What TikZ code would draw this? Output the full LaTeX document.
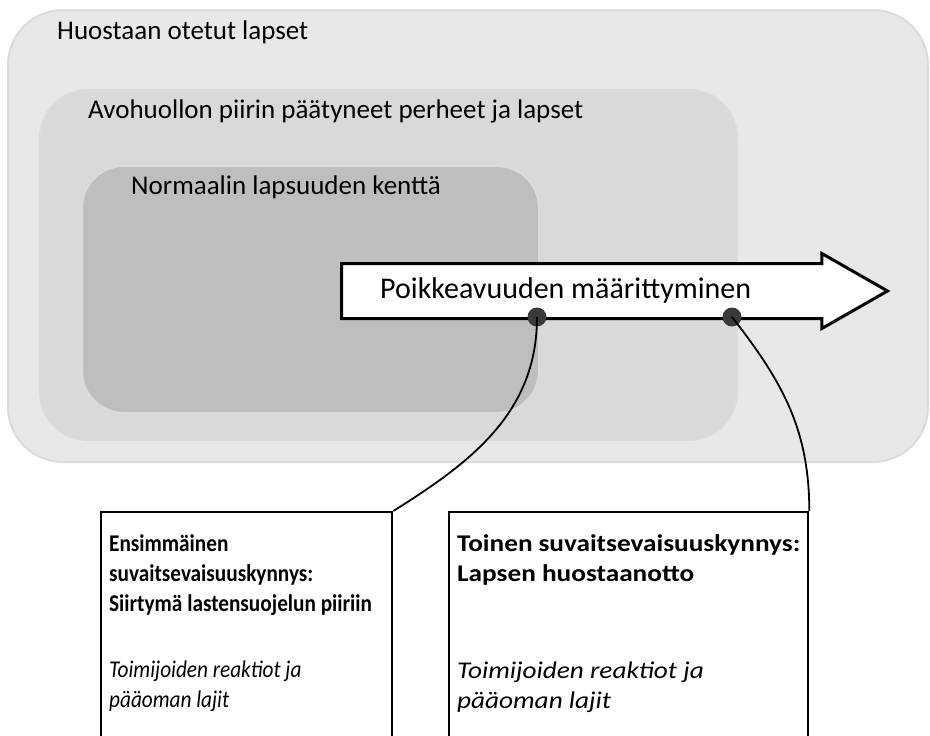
\documentclass[tikz,border=0pt]{standalone}
\usepackage{fontspec}
\setmainfont{Carlito}
\newfontfamily\narrowfont[FakeStretch = 0.886]{Carlito}
\newfontfamily\widefont[FakeStretch = 1.136]{Carlito}
\usepackage{tikz}
\usetikzlibrary{positioning}
\usetikzlibrary{shapes.arrows}
\definecolor{outergray}{RGB}{231,232,234}
\definecolor{middlegray}{RGB}{216,217,219}
\definecolor{innergray}{RGB}{189,190,192}
\definecolor{dotgray}{RGB}{58,58,60}
\newcommand{\firstline}{\rule{0pt}{33pt}}
\tikzset{field/.style = {draw = black!14, line width = 2pt}}
\tikzset{fieldlabel/.style = {anchor = base west, inner sep = 0, font = \fontsize{27}{32}\selectfont}}
\tikzset{circ/.style = {fill = dotgray, circle, inner sep = 0, minimum size = 19}}
\tikzset{threshold/.style = {draw, line width = 2.3pt, anchor = north west, inner xsep = 8, inner ysep = 6}}

\begin{document}
\begin{tikzpicture}[x = 1pt, y = -1pt]
      \useasboundingbox (0, 0) rectangle (930, 736);
      \clip (0, 0) rectangle (930, 736);
      \fill [white] (0, 0) rectangle (930, 736);
      \filldraw [field, fill = outergray, rounded corners = 55] (8, 10) rectangle (928, 462);
      \filldraw [field, fill = middlegray, rounded corners = 48] (40, 90) rectangle (737, 440);
      \filldraw [field, fill = innergray, rounded corners = 42] (82, 166) rectangle (539, 413);
      \node [fieldlabel] (huostaan) at (57, 39) {Huostaan otetut lapset};
      \node [fieldlabel] (avohuolto) at (88, 118) {Avohuollon piirin päätyneet perheet ja lapset};
      \node [fieldlabel] (normaali) at (131, 194) {Normaalin lapsuuden kenttä};
      \node [single arrow, draw, fill = white, line width = 3pt, anchor = tail,
             minimum height = 546, single arrow head extend = 10, single arrow tip angle = 59.5,
             inner ysep = 12, inner xsep = 0, text height = 21, text depth = 7]
            (poikkeavuus) at (340, 291) {};
      \node [right = 40pt of poikkeavuus.tail, anchor = west, inner sep = 0, text height = 21, text depth = 7,
             font = \fontsize{30}{34}\selectfont] (poikkeavuusteksti) {Poikkeavuuden määrittyminen};
      \node [threshold] (first) at (100, 511)
            {\parbox[t][250pt][t]{275pt}{\narrowfont\fontsize{24}{30}\selectfont
             \firstline\textbf{Ensimmäinen}\\ \textbf{suvaitsevaisuuskynnys:}\\
             \textbf{Siirtymä lastensuojelun piiriin}\\[36pt] \textit{Toimijoiden reaktiot ja}\\ \textit{pääoman lajit}}};
      \node [threshold] (second) at (448, 511)
            {\parbox[t][250pt][t]{343pt}{\widefont\fontsize{24}{30}\selectfont
             \firstline\textbf{Toinen suvaitsevaisuuskynnys:}\\ \textbf{Lapsen huostaanotto}\\[67pt]
             \textit{Toimijoiden reaktiot ja}\\ \textit{pääoman lajit}}};
      \node [circ] (d1) at (537, 317) {};
      \node [circ] (d2) at (732, 317) {};
      \draw [line width = 1.8pt] (d1.center) to [out = -90, in = 32] (first.north east);
      \draw [line width = 1.8pt] (d2.center) to [out = -52, in = 90] (second.north east);
    \end{tikzpicture}
\end{document}
